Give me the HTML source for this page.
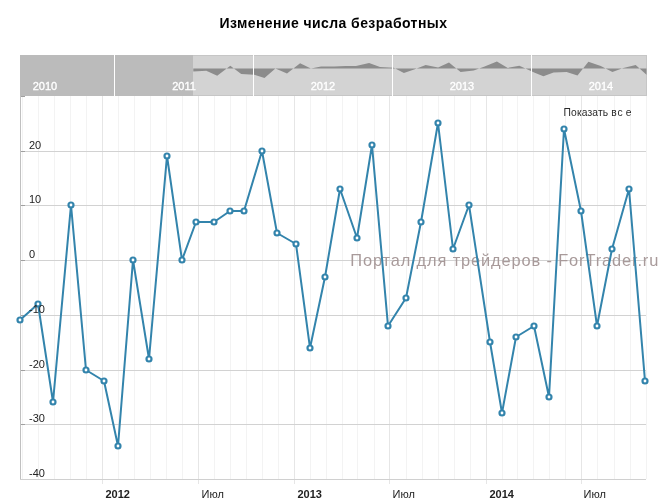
<!DOCTYPE html><html><head><meta charset="utf-8"><style>html,body{margin:0;padding:0;background:#fff;width:666px;height:500px;overflow:hidden}svg{display:block;will-change:transform}text{font-family:"Liberation Sans",sans-serif}</style></head><body>
<svg width="666" height="500" viewBox="0 0 666 500">
<rect width="666" height="500" fill="#fff"/>
<text x="333.2" y="28" text-anchor="middle" font-size="14" font-weight="bold" fill="#000" textLength="227.5" lengthAdjust="spacing">Изменение числа безработных</text>
<rect x="20" y="55" width="627" height="41" fill="#d3d3d3"/>
<rect x="20.5" y="55.5" width="626" height="40" fill="none" stroke="#c6c6c6"/>
<path d="M193.3,68.5 L193.3,71.6 L206.3,70.7 L217.2,75.8 L230.3,65.7 L241.2,74.1 L254.3,74.7 L264.5,78.0 L275.4,68.5 L287.0,73.5 L300.1,63.2 L310.9,68.5 L321.1,66.5 L334.2,66.5 L345.8,66.0 L356.0,66.0 L369.1,62.9 L380.0,67.1 L393.8,67.7 L403.9,73.0 L414.8,69.3 L425.7,64.9 L438.1,67.4 L449.0,62.6 L460.6,71.9 L473.7,70.5 L484.6,66.5 L496.9,61.5 L507.8,67.9 L519.4,65.7 L534.7,72.7 L543.4,76.3 L553.6,72.4 L566.6,71.9 L577.5,75.5 L588.4,61.8 L600.8,66.0 L612.4,71.9 L623.3,67.9 L635.7,64.9 L646.5,74.7 L646.5,68.5 Z" fill="#8c8c8c"/>
<rect x="20" y="55" width="173" height="41" fill="#bbbbbb"/>
<line x1="114.5" y1="55" x2="114.5" y2="96" stroke="#fff" stroke-width="1"/>
<line x1="253.5" y1="55" x2="253.5" y2="96" stroke="#fff" stroke-width="1"/>
<line x1="392.5" y1="55" x2="392.5" y2="96" stroke="#fff" stroke-width="1"/>
<line x1="531.5" y1="55" x2="531.5" y2="96" stroke="#fff" stroke-width="1"/>
<text x="45" y="90" text-anchor="middle" font-size="11" fill="#fff" stroke="#fff" stroke-width="0.35">2010</text>
<text x="184" y="90" text-anchor="middle" font-size="11" fill="#fff" stroke="#fff" stroke-width="0.35">2011</text>
<text x="323" y="90" text-anchor="middle" font-size="11" fill="#fff" stroke="#fff" stroke-width="0.35">2012</text>
<text x="462" y="90" text-anchor="middle" font-size="11" fill="#fff" stroke="#fff" stroke-width="0.35">2013</text>
<text x="601" y="90" text-anchor="middle" font-size="11" fill="#fff" stroke="#fff" stroke-width="0.35">2014</text>
<line x1="22.5" y1="96" x2="22.5" y2="479" stroke="#f3f3f3"/>
<line x1="38.5" y1="96" x2="38.5" y2="479" stroke="#f3f3f3"/>
<line x1="54.5" y1="96" x2="54.5" y2="479" stroke="#f3f3f3"/>
<line x1="70.5" y1="96" x2="70.5" y2="479" stroke="#f3f3f3"/>
<line x1="86.5" y1="96" x2="86.5" y2="479" stroke="#f3f3f3"/>
<line x1="102.5" y1="96" x2="102.5" y2="484" stroke="#e6e6e6"/>
<line x1="118.5" y1="96" x2="118.5" y2="479" stroke="#f3f3f3"/>
<line x1="134.5" y1="96" x2="134.5" y2="479" stroke="#f3f3f3"/>
<line x1="150.5" y1="96" x2="150.5" y2="479" stroke="#f3f3f3"/>
<line x1="166.5" y1="96" x2="166.5" y2="479" stroke="#f3f3f3"/>
<line x1="182.5" y1="96" x2="182.5" y2="479" stroke="#f3f3f3"/>
<line x1="198.5" y1="96" x2="198.5" y2="484" stroke="#e6e6e6"/>
<line x1="214.5" y1="96" x2="214.5" y2="479" stroke="#f3f3f3"/>
<line x1="230.5" y1="96" x2="230.5" y2="479" stroke="#f3f3f3"/>
<line x1="246.5" y1="96" x2="246.5" y2="479" stroke="#f3f3f3"/>
<line x1="262.5" y1="96" x2="262.5" y2="479" stroke="#f3f3f3"/>
<line x1="278.5" y1="96" x2="278.5" y2="479" stroke="#f3f3f3"/>
<line x1="294.5" y1="96" x2="294.5" y2="484" stroke="#e6e6e6"/>
<line x1="310.5" y1="96" x2="310.5" y2="479" stroke="#f3f3f3"/>
<line x1="326.5" y1="96" x2="326.5" y2="479" stroke="#f3f3f3"/>
<line x1="342.5" y1="96" x2="342.5" y2="479" stroke="#f3f3f3"/>
<line x1="357.5" y1="96" x2="357.5" y2="479" stroke="#f3f3f3"/>
<line x1="374.5" y1="96" x2="374.5" y2="479" stroke="#f3f3f3"/>
<line x1="389.5" y1="96" x2="389.5" y2="484" stroke="#e6e6e6"/>
<line x1="406.5" y1="96" x2="406.5" y2="479" stroke="#f3f3f3"/>
<line x1="422.5" y1="96" x2="422.5" y2="479" stroke="#f3f3f3"/>
<line x1="438.5" y1="96" x2="438.5" y2="479" stroke="#f3f3f3"/>
<line x1="454.5" y1="96" x2="454.5" y2="479" stroke="#f3f3f3"/>
<line x1="470.5" y1="96" x2="470.5" y2="479" stroke="#f3f3f3"/>
<line x1="486.5" y1="96" x2="486.5" y2="484" stroke="#e6e6e6"/>
<line x1="502.5" y1="96" x2="502.5" y2="479" stroke="#f3f3f3"/>
<line x1="517.5" y1="96" x2="517.5" y2="479" stroke="#f3f3f3"/>
<line x1="533.5" y1="96" x2="533.5" y2="479" stroke="#f3f3f3"/>
<line x1="549.5" y1="96" x2="549.5" y2="479" stroke="#f3f3f3"/>
<line x1="565.5" y1="96" x2="565.5" y2="479" stroke="#f3f3f3"/>
<line x1="581.5" y1="96" x2="581.5" y2="484" stroke="#e6e6e6"/>
<line x1="597.5" y1="96" x2="597.5" y2="479" stroke="#f3f3f3"/>
<line x1="614.5" y1="96" x2="614.5" y2="479" stroke="#f3f3f3"/>
<line x1="630.5" y1="96" x2="630.5" y2="479" stroke="#f3f3f3"/>
<line x1="646.5" y1="96" x2="646.5" y2="479" stroke="#f3f3f3"/>
<line x1="20" y1="151.5" x2="646" y2="151.5" stroke="#d2d2d2"/>
<line x1="20" y1="151.5" x2="25" y2="151.5" stroke="#a0a0a0"/>
<line x1="20" y1="205.5" x2="646" y2="205.5" stroke="#d2d2d2"/>
<line x1="20" y1="205.5" x2="25" y2="205.5" stroke="#a0a0a0"/>
<line x1="20" y1="260.5" x2="646" y2="260.5" stroke="#d2d2d2"/>
<line x1="20" y1="260.5" x2="25" y2="260.5" stroke="#a0a0a0"/>
<line x1="20" y1="315.5" x2="646" y2="315.5" stroke="#d2d2d2"/>
<line x1="20" y1="315.5" x2="25" y2="315.5" stroke="#a0a0a0"/>
<line x1="20" y1="370.5" x2="646" y2="370.5" stroke="#d2d2d2"/>
<line x1="20" y1="370.5" x2="25" y2="370.5" stroke="#a0a0a0"/>
<line x1="20" y1="424.5" x2="646" y2="424.5" stroke="#d2d2d2"/>
<line x1="20" y1="424.5" x2="25" y2="424.5" stroke="#a0a0a0"/>
<line x1="20" y1="96.5" x2="25" y2="96.5" stroke="#a0a0a0"/>
<line x1="20.5" y1="96" x2="20.5" y2="480" stroke="#c0c0c0"/>
<line x1="20" y1="479.5" x2="646" y2="479.5" stroke="#d0d0d0"/>
<text x="105.5" y="498" font-size="11" font-weight="bold" fill="#222">2012</text>
<text x="201.5" y="498" font-size="11"  fill="#222">Июл</text>
<text x="297.5" y="498" font-size="11" font-weight="bold" fill="#222">2013</text>
<text x="392.5" y="498" font-size="11"  fill="#222">Июл</text>
<text x="489.5" y="498" font-size="11" font-weight="bold" fill="#222">2014</text>
<text x="583.5" y="498" font-size="11"  fill="#222">Июл</text>
<text x="350.3" y="266" font-size="16.4" fill="#a89a9a" textLength="308" lengthAdjust="spacing">Портал для трейдеров - ForTrader.ru</text>
<polyline fill="none" stroke="#3384ac" stroke-width="2" stroke-linejoin="round" points="20.0,320.0 38.0,304.0 53.0,402.0 71.0,205.0 86.0,370.0 104.0,381.0 118.0,446.0 133.0,260.0 149.0,359.0 167.0,156.0 182.0,260.0 196.0,222.0 214.0,222.0 230.0,211.0 244.0,211.0 262.0,151.0 277.0,233.0 296.0,244.0 310.0,348.0 325.0,277.0 340.0,189.0 357.0,238.0 372.0,145.0 388.0,326.0 406.0,298.0 421.0,222.0 438.0,123.0 453.0,249.0 469.0,205.0 490.0,342.0 502.0,413.0 516.0,337.0 534.0,326.0 549.0,397.0 564.0,129.0 581.0,211.0 597.0,326.0 612.0,249.0 629.0,189.0 645.0,381.0"/>
<circle cx="20.0" cy="320.0" r="2.5" fill="#fff" stroke="#3384ac" stroke-width="2.2"/>
<circle cx="38.0" cy="304.0" r="2.5" fill="#fff" stroke="#3384ac" stroke-width="2.2"/>
<circle cx="53.0" cy="402.0" r="2.5" fill="#fff" stroke="#3384ac" stroke-width="2.2"/>
<circle cx="71.0" cy="205.0" r="2.5" fill="#fff" stroke="#3384ac" stroke-width="2.2"/>
<circle cx="86.0" cy="370.0" r="2.5" fill="#fff" stroke="#3384ac" stroke-width="2.2"/>
<circle cx="104.0" cy="381.0" r="2.5" fill="#fff" stroke="#3384ac" stroke-width="2.2"/>
<circle cx="118.0" cy="446.0" r="2.5" fill="#fff" stroke="#3384ac" stroke-width="2.2"/>
<circle cx="133.0" cy="260.0" r="2.5" fill="#fff" stroke="#3384ac" stroke-width="2.2"/>
<circle cx="149.0" cy="359.0" r="2.5" fill="#fff" stroke="#3384ac" stroke-width="2.2"/>
<circle cx="167.0" cy="156.0" r="2.5" fill="#fff" stroke="#3384ac" stroke-width="2.2"/>
<circle cx="182.0" cy="260.0" r="2.5" fill="#fff" stroke="#3384ac" stroke-width="2.2"/>
<circle cx="196.0" cy="222.0" r="2.5" fill="#fff" stroke="#3384ac" stroke-width="2.2"/>
<circle cx="214.0" cy="222.0" r="2.5" fill="#fff" stroke="#3384ac" stroke-width="2.2"/>
<circle cx="230.0" cy="211.0" r="2.5" fill="#fff" stroke="#3384ac" stroke-width="2.2"/>
<circle cx="244.0" cy="211.0" r="2.5" fill="#fff" stroke="#3384ac" stroke-width="2.2"/>
<circle cx="262.0" cy="151.0" r="2.5" fill="#fff" stroke="#3384ac" stroke-width="2.2"/>
<circle cx="277.0" cy="233.0" r="2.5" fill="#fff" stroke="#3384ac" stroke-width="2.2"/>
<circle cx="296.0" cy="244.0" r="2.5" fill="#fff" stroke="#3384ac" stroke-width="2.2"/>
<circle cx="310.0" cy="348.0" r="2.5" fill="#fff" stroke="#3384ac" stroke-width="2.2"/>
<circle cx="325.0" cy="277.0" r="2.5" fill="#fff" stroke="#3384ac" stroke-width="2.2"/>
<circle cx="340.0" cy="189.0" r="2.5" fill="#fff" stroke="#3384ac" stroke-width="2.2"/>
<circle cx="357.0" cy="238.0" r="2.5" fill="#fff" stroke="#3384ac" stroke-width="2.2"/>
<circle cx="372.0" cy="145.0" r="2.5" fill="#fff" stroke="#3384ac" stroke-width="2.2"/>
<circle cx="388.0" cy="326.0" r="2.5" fill="#fff" stroke="#3384ac" stroke-width="2.2"/>
<circle cx="406.0" cy="298.0" r="2.5" fill="#fff" stroke="#3384ac" stroke-width="2.2"/>
<circle cx="421.0" cy="222.0" r="2.5" fill="#fff" stroke="#3384ac" stroke-width="2.2"/>
<circle cx="438.0" cy="123.0" r="2.5" fill="#fff" stroke="#3384ac" stroke-width="2.2"/>
<circle cx="453.0" cy="249.0" r="2.5" fill="#fff" stroke="#3384ac" stroke-width="2.2"/>
<circle cx="469.0" cy="205.0" r="2.5" fill="#fff" stroke="#3384ac" stroke-width="2.2"/>
<circle cx="490.0" cy="342.0" r="2.5" fill="#fff" stroke="#3384ac" stroke-width="2.2"/>
<circle cx="502.0" cy="413.0" r="2.5" fill="#fff" stroke="#3384ac" stroke-width="2.2"/>
<circle cx="516.0" cy="337.0" r="2.5" fill="#fff" stroke="#3384ac" stroke-width="2.2"/>
<circle cx="534.0" cy="326.0" r="2.5" fill="#fff" stroke="#3384ac" stroke-width="2.2"/>
<circle cx="549.0" cy="397.0" r="2.5" fill="#fff" stroke="#3384ac" stroke-width="2.2"/>
<circle cx="564.0" cy="129.0" r="2.5" fill="#fff" stroke="#3384ac" stroke-width="2.2"/>
<circle cx="581.0" cy="211.0" r="2.5" fill="#fff" stroke="#3384ac" stroke-width="2.2"/>
<circle cx="597.0" cy="326.0" r="2.5" fill="#fff" stroke="#3384ac" stroke-width="2.2"/>
<circle cx="612.0" cy="249.0" r="2.5" fill="#fff" stroke="#3384ac" stroke-width="2.2"/>
<circle cx="629.0" cy="189.0" r="2.5" fill="#fff" stroke="#3384ac" stroke-width="2.2"/>
<circle cx="645.0" cy="381.0" r="2.5" fill="#fff" stroke="#3384ac" stroke-width="2.2"/>
<text x="29" y="149" font-size="11" fill="#222">20</text>
<text x="29" y="203" font-size="11" fill="#222">10</text>
<text x="29" y="258" font-size="11" fill="#222">0</text>
<text x="29" y="313" font-size="11" fill="#222">-10</text>
<text x="29" y="368" font-size="11" fill="#222">-20</text>
<text x="29" y="422" font-size="11" fill="#222">-30</text>
<text x="29" y="477" font-size="11" fill="#222">-40</text>
<g font-size="10.3" fill="#2a2a2a"><text x="563.6" y="115.8" textLength="44.6" lengthAdjust="spacing">Показать</text><text x="611.3" y="115.8">в</text><text x="617.6" y="115.8">с</text><text x="625.8" y="115.8">е</text></g>
</svg></body></html>
